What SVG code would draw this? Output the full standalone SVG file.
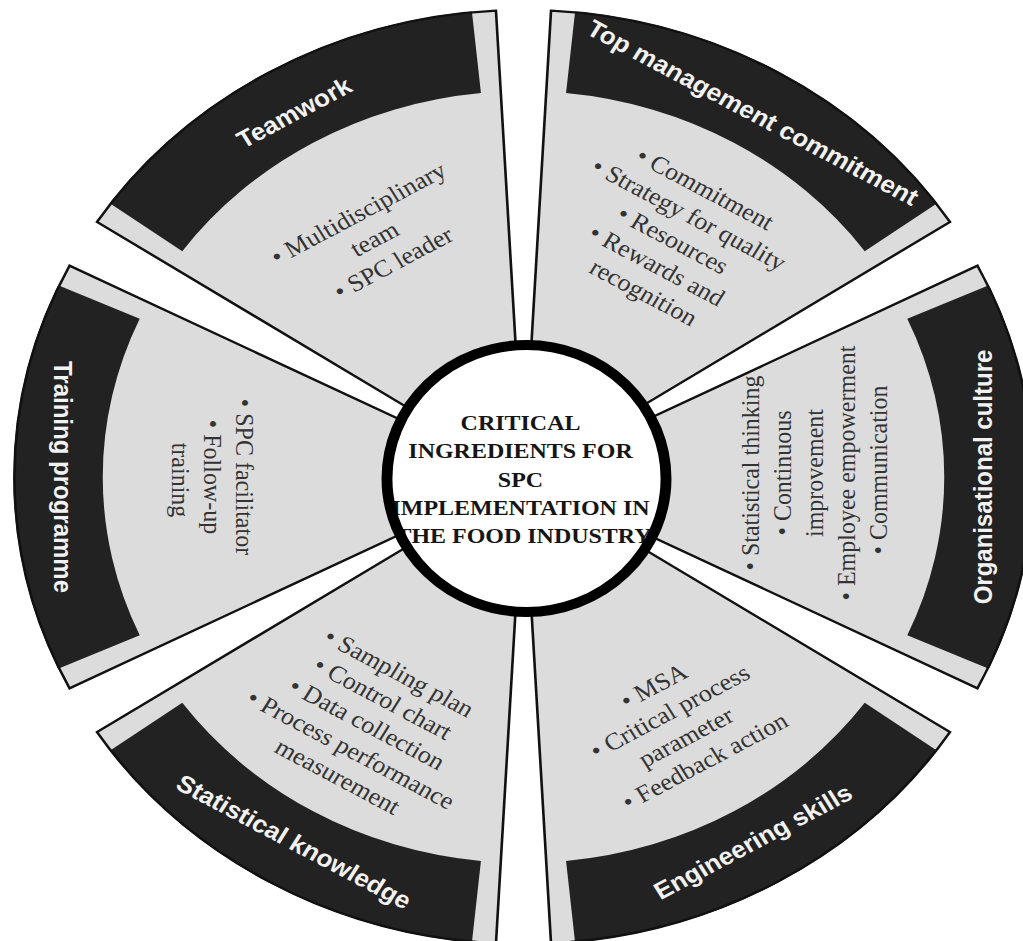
<svg xmlns="http://www.w3.org/2000/svg" width="1023" height="941" viewBox="0 0 1023 941">
  <style>
    .sec{fill:#dcdcdc}
    .edge{fill:none;stroke:#111;stroke-width:2.4;stroke-linejoin:miter}
    .band{fill:#222}
    .title{font-family:"Liberation Sans",Arial,sans-serif;font-weight:bold;font-size:24px;fill:#f2f2f2;text-anchor:middle}
    .body{font-family:"Liberation Serif","Times New Roman",serif;font-size:24px;fill:#333;text-anchor:middle}
    .hub{font-family:"Liberation Serif","Times New Roman",serif;font-weight:bold;font-size:22px;fill:#151515;text-anchor:middle}
  </style>
  <defs>
    <!-- one wedge of the ring, pointing straight up; rotated for each segment -->
    <path id="wedge" d="M -211.3 -416.5 A 467 467 0 0 1 211.3 -416.5 L 52 -102.6 A 115 115 0 0 0 -52 -102.6 Z"/>
    <!-- dark title band along the outer rim of a wedge -->
    <path id="bar" d="M -191.8 -426.9 A 468 468 0 0 1 191.8 -426.9 L 158.2 -352.1 A 386 386 0 0 0 -158.2 -352.1 Z"/>
  </defs>
  <rect width="1023" height="941" fill="#fff"/>

  <!-- whole wheel, drawn in circle units and widened horizontally -->
  <g transform="translate(523.5 477) scale(1.09 1)">

    <g id="teamwork">
      <g transform="rotate(-30)">
        <use href="#wedge" class="sec"/><use href="#bar" class="band"/><use href="#wedge" class="edge"/>
      </g>
      <text class="title" transform="translate(-210.5 -364.6) rotate(-30)" y="8.4">Teamwork</text>
      <text class="body" transform="translate(-134.4 -240) rotate(-30)">
        <tspan x="0" y="-21.1">• Multidisciplinary</tspan>
        <tspan x="0" y="8.4">team</tspan>
        <tspan x="0" y="37.9">• SPC leader</tspan>
      </text>
    </g>

    <g id="top-management">
      <g transform="rotate(30)">
        <use href="#wedge" class="sec"/><use href="#bar" class="band"/><use href="#wedge" class="edge"/>
      </g>
      <text class="title" transform="translate(210.5 -364.6) rotate(30)" y="8.4">Top management commitment</text>
      <text class="body" transform="translate(139.9 -236) rotate(30)">
        <tspan x="0" y="-50.6">• Commitment</tspan>
        <tspan x="0" y="-21.1">• Strategy for quality</tspan>
        <tspan x="0" y="8.4">• Resources</tspan>
        <tspan x="0" y="37.9">• Rewards and</tspan>
        <tspan x="0" y="67.4">recognition</tspan>
      </text>
    </g>

    <g id="organisational-culture">
      <g transform="rotate(90)">
        <use href="#wedge" class="sec"/><use href="#bar" class="band"/><use href="#wedge" class="edge"/>
      </g>
      <text class="title" transform="translate(421 0) rotate(-90)" y="8.4">Organisational culture</text>
      <text class="body" transform="translate(266.5 -7) rotate(-90)">
        <tspan x="0" y="-50.6">• Statistical thinking</tspan>
        <tspan x="0" y="-21.1">• Continuous</tspan>
        <tspan x="0" y="8.4">improvement</tspan>
        <tspan x="0" y="37.9">• Employee empowerment</tspan>
        <tspan x="0" y="67.4">• Communication</tspan>
      </text>
    </g>

    <g id="engineering-skills">
      <g transform="rotate(150)">
        <use href="#wedge" class="sec"/><use href="#bar" class="band"/><use href="#wedge" class="edge"/>
      </g>
      <text class="title" transform="translate(210.5 364.6) rotate(-30)" y="8.4">Engineering skills</text>
      <text class="body" transform="translate(144 245.5) rotate(-30)">
        <tspan x="0" y="-35.85">• MSA</tspan>
        <tspan x="0" y="-6.35">• Critical process</tspan>
        <tspan x="0" y="23.15">parameter</tspan>
        <tspan x="0" y="52.65">• Feedback action</tspan>
      </text>
    </g>

    <g id="statistical-knowledge">
      <g transform="rotate(210)">
        <use href="#wedge" class="sec"/><use href="#bar" class="band"/><use href="#wedge" class="edge"/>
      </g>
      <text class="title" transform="translate(-210.5 364.6) rotate(30)" y="8.4">Statistical knowledge</text>
      <text class="body" transform="translate(-140.8 248) rotate(30)">
        <tspan x="0" y="-50.6">• Sampling plan</tspan>
        <tspan x="0" y="-21.1">• Control chart</tspan>
        <tspan x="0" y="8.4">• Data collection</tspan>
        <tspan x="0" y="37.9">• Process performance</tspan>
        <tspan x="0" y="67.4">measurement</tspan>
      </text>
    </g>

    <g id="training-programme">
      <g transform="rotate(270)">
        <use href="#wedge" class="sec"/><use href="#bar" class="band"/><use href="#wedge" class="edge"/>
      </g>
      <text class="title" transform="translate(-422 0) rotate(90)" y="8.4">Training programme</text>
      <text class="body" transform="translate(-284.9 3) rotate(90)">
        <tspan x="0" y="-21.1">• SPC facilitator</tspan>
        <tspan x="0" y="8.4">• Follow-up</tspan>
        <tspan x="0" y="37.9">training</tspan>
      </text>
    </g>

    <g id="hub">
      <ellipse cx="2.75" cy="1.5" rx="128" ry="133.5" fill="#fff"/>
      <text class="hub">
        <tspan x="0" y="-47">CRITICAL</tspan>
        <tspan x="0" y="-19">INGREDIENTS FOR</tspan>
        <tspan x="0" y="10">SPC</tspan>
        <tspan x="0" y="38">IMPLEMENTATION IN</tspan>
        <tspan x="0" y="66">THE FOOD INDUSTRY</tspan>
      </text>
      <ellipse cx="2.75" cy="1.5" rx="128" ry="133.5" fill="none" stroke="#000" stroke-width="10"/>
    </g>

    <!-- the segments touch only the hub; there are no separate connectors -->
    <g id="connectors"/>
  </g>
</svg>
